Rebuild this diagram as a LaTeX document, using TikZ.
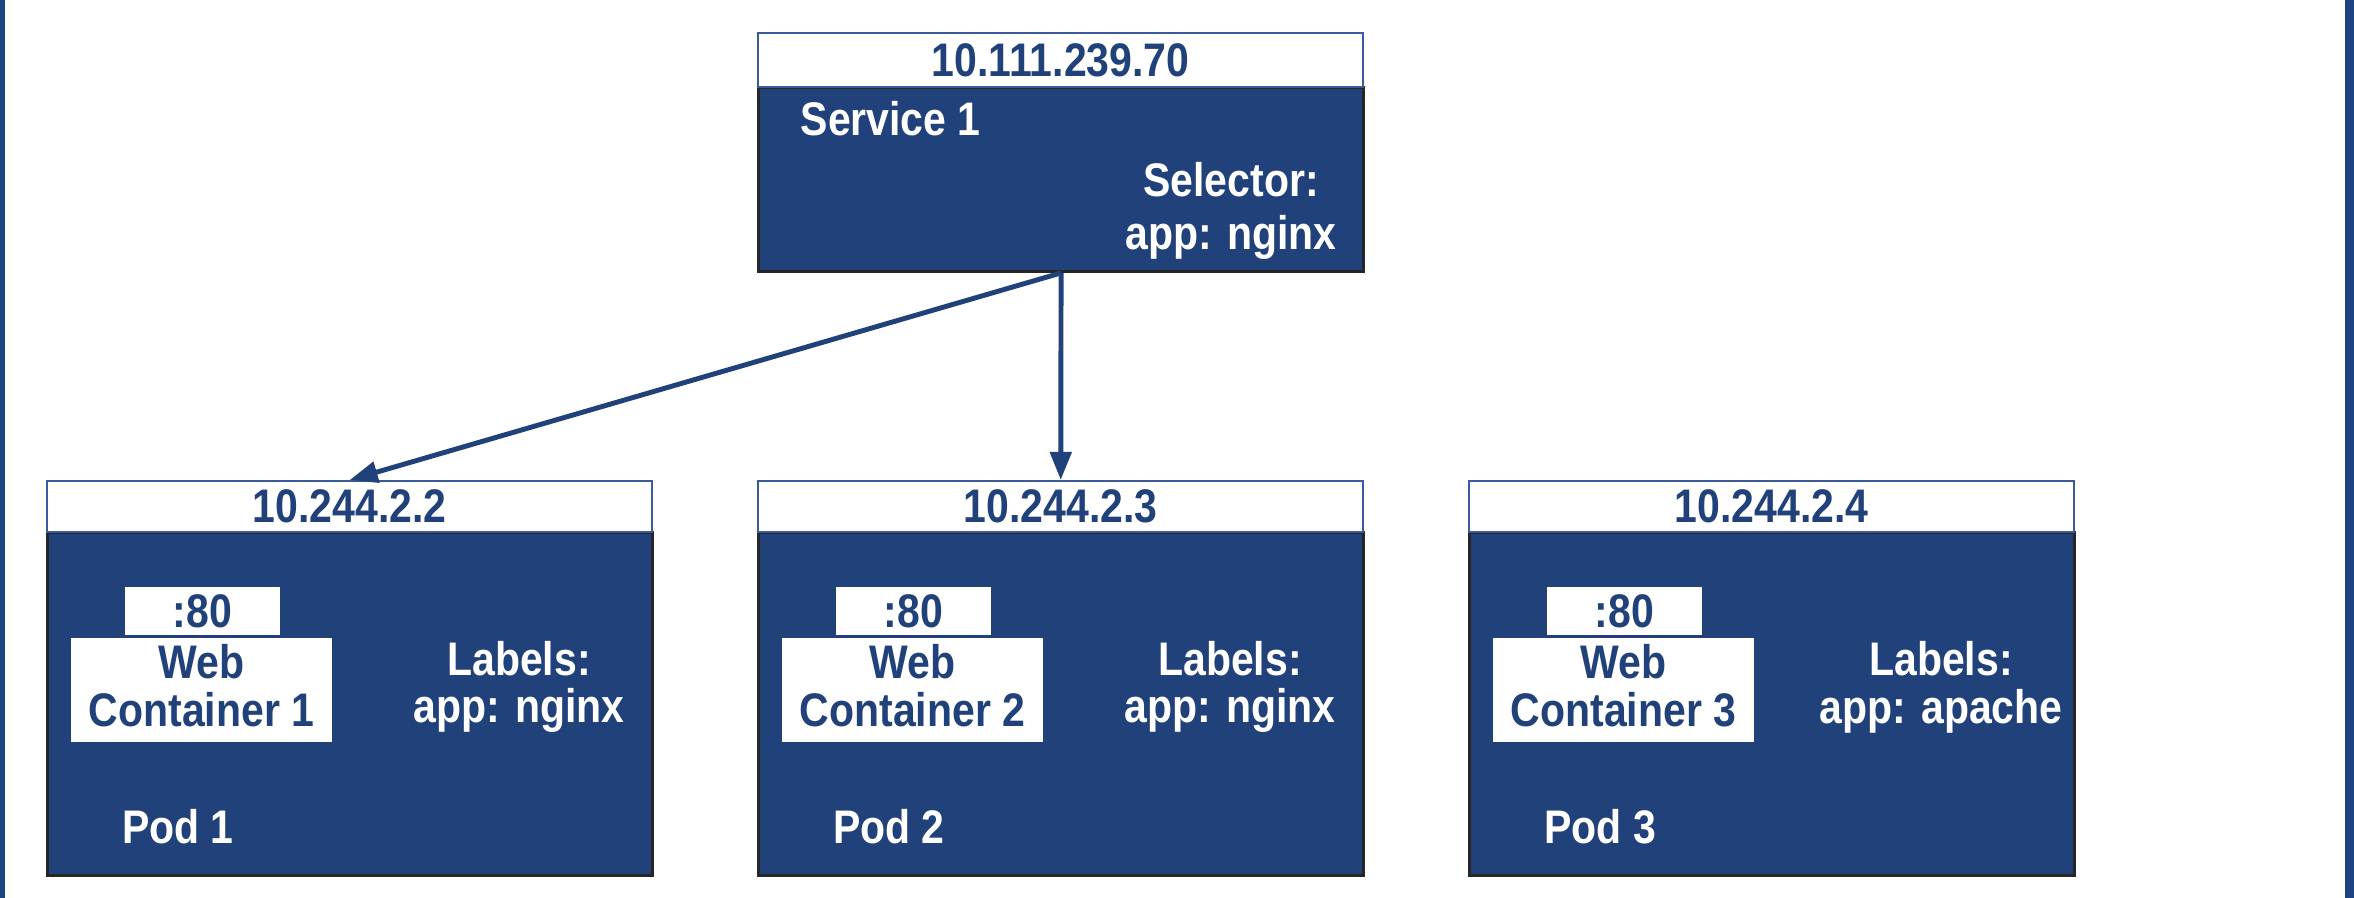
\documentclass[tikz,border=0pt]{standalone}
\usepackage{fontspec}
\setmainfont{Liberation Sans}[FakeStretch=0.87]
\usetikzlibrary{arrows.meta}
\definecolor{kblue}{HTML}{21417A}
\definecolor{kedge}{HTML}{3B5B9A}
\definecolor{kstripe}{HTML}{1B4480}
\tikzset{
  txt/.style={font=\bfseries\fontsize{13.4}{13.6}\selectfont, inner sep=0pt},
  hdr/.style={txt, draw=kedge, line width=0.6pt, fill=white, text=kblue, anchor=north west, minimum width=6.05cm},
  bodybox/.style={draw=black!85, line width=0.8pt, fill=kblue, anchor=north west, minimum width=6.05cm},
  whitebox/.style={txt, fill=white, text=kblue, align=center},
  btxt/.style={txt, text=kblue, align=center},
  wtxt/.style={txt, text=white, align=center},
  arr/.style={draw=kblue, line width=1.4pt, -{Triangle[length=0.28cm,width=0.21cm]}},
}
\begin{document}
\begin{tikzpicture}[x=0.01cm,y=-0.01cm]
\useasboundingbox (0,0) rectangle (2354,898);
\fill[white] (0,0) rectangle (2354,898);
\fill[kstripe] (0,0) rectangle (5,898);
\fill[kstripe] (2345,0) rectangle (2354,898);

% Service
\node[bodybox, minimum height=1.84cm] (svcbody) at (757,86) {};
\node[hdr, minimum height=0.54cm] (svchead) at (757,32) {10.111.239.70};
\node[wtxt, anchor=west] (svcname) at (800,119) {Service 1};
\node[wtxt, font=\bfseries\fontsize{13.4}{15.2}\selectfont] (svcsel) at (1231,211) {Selector:\\app: nginx};

% Pods
\foreach \i/\x/\app in {1/46/nginx, 2/757/nginx, 3/1468/apache}{
  \node[bodybox, minimum height=3.43cm] (pod\i body) at (\x,531) {};
  \node[hdr, minimum height=0.51cm] (pod\i head) at (\x,480) {10.244.2.\the\numexpr\i+1\relax};
  \node[whitebox, minimum width=1.55cm, minimum height=0.48cm] (port\i) at (\x+156.5,611) {:80};
  \node[whitebox, minimum width=2.61cm, minimum height=1.04cm] (web\i) at (\x+155.5,690) {};
  \node[btxt] (webtxt\i) at (\x+155.5,686) {Web\\Container \i};
  \node[wtxt] (lab\i) at (\x+473,687) {Labels:\\app: \app};
  \node[wtxt] (podname\i) at (\x+132,827) {Pod \i};
}

% Connectors
\draw[arr] (svcbody.south) -- (pod1head.north);
\draw[arr] (svcbody.south) -- (pod2head.north);
\end{tikzpicture}
\end{document}
